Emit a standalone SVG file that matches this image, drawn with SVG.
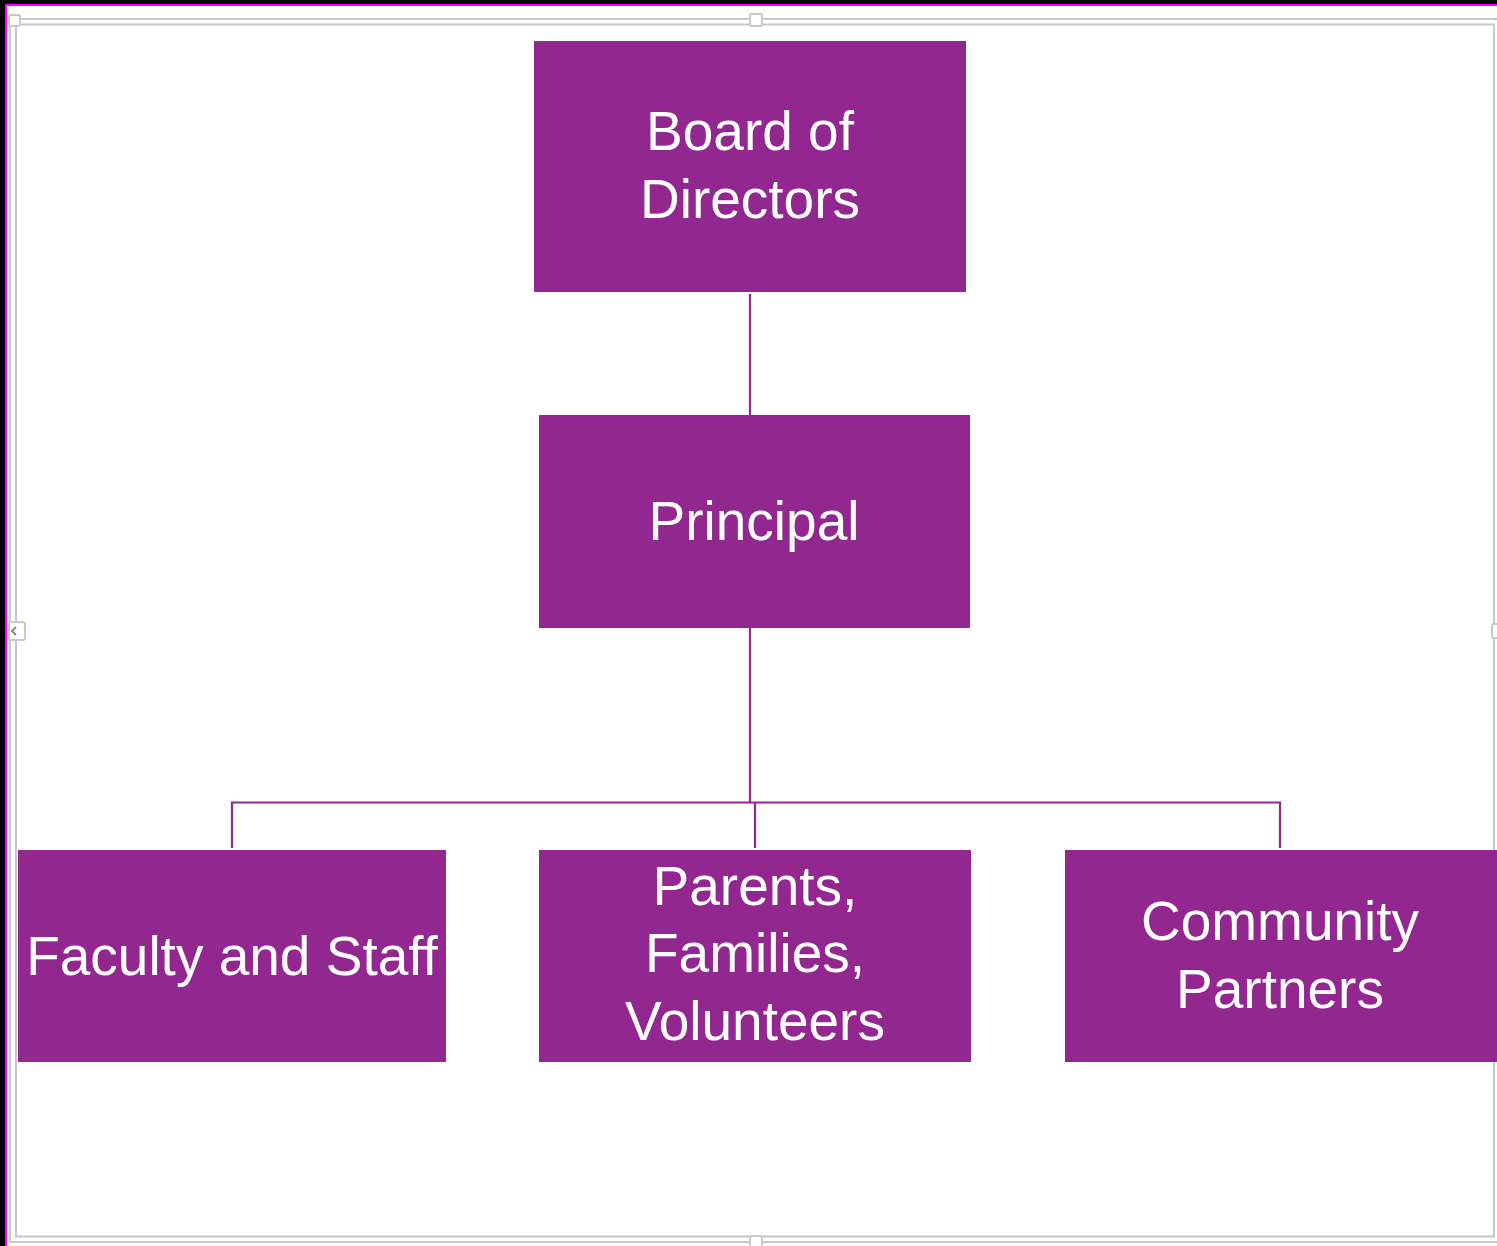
<svg xmlns="http://www.w3.org/2000/svg" width="1497" height="1246" viewBox="0 0 1497 1246">
  <style>
    .node { fill: #92278f; }
    .label { fill: #ffffff; font-family: "Liberation Sans", Arial, sans-serif; font-size: 55px; text-anchor: middle; }
    .wire { fill: none; stroke: #92278f; stroke-width: 2.2; }
    .frame { fill: none; stroke: #c9c9c9; stroke-width: 2; }
    .handle { fill: #ffffff; stroke: #c9c9c9; stroke-width: 2; }
  </style>

  <!-- canvas -->
  <rect x="0" y="0" width="1497" height="1246" fill="#000000"/>
  <rect x="5" y="4" width="1492" height="1242" fill="#ffffff"/>
  <rect x="5" y="4" width="1492" height="2" fill="#ff00ff"/>
  <rect x="5" y="4" width="2" height="1242" fill="#ff00ff"/>

  <!-- selection frame -->
  <g id="frame">
    <rect class="frame" x="10" y="19" width="1490" height="1223"/>
    <rect class="frame" x="16" y="24.5" width="1478" height="1212"/>
    <rect class="handle" x="9" y="15" width="11" height="11" rx="2"/>
    <rect class="handle" x="750" y="14" width="12" height="12" rx="2"/>
    <rect class="handle" x="750" y="1236" width="12" height="12" rx="2"/>
    <rect class="handle" x="9" y="622" width="16" height="18" rx="2"/>
    <path d="M16 627 L12 631 L16 635" fill="none" stroke="#888888" stroke-width="2"/>
    <rect class="handle" x="1492" y="624" width="8" height="14" rx="2"/>
  </g>

  <!-- connectors -->
  <g id="connectors">
    <line class="wire" x1="750" y1="294" x2="750" y2="415"/>
    <line class="wire" x1="750" y1="628" x2="750" y2="802.5"/>
    <polyline class="wire" points="232,848 232,802.5 1280,802.5 1280,848"/>
    <line class="wire" x1="755" y1="802.5" x2="755" y2="848"/>
  </g>

  <g id="board">
    <rect class="node" x="534" y="41" width="432" height="251"/>
    <text class="label" x="750" y="150">Board of</text>
    <text class="label" x="750" y="218">Directors</text>
  </g>

  <g id="principal">
    <rect class="node" x="539" y="415" width="431" height="213"/>
    <text class="label" x="754" y="540">Principal</text>
  </g>

  <g id="faculty">
    <rect class="node" x="18" y="850" width="428" height="212"/>
    <text class="label" x="232" y="975">Faculty and Staff</text>
  </g>

  <g id="parents">
    <rect class="node" x="539" y="850" width="432" height="212"/>
    <text class="label" x="755" y="905">Parents,</text>
    <text class="label" x="755" y="972">Families,</text>
    <text class="label" x="755" y="1040">Volunteers</text>
  </g>

  <g id="community">
    <rect class="node" x="1065" y="850" width="432" height="212"/>
    <text class="label" x="1280" y="940">Community</text>
    <text class="label" x="1280" y="1008">Partners</text>
  </g>
</svg>
